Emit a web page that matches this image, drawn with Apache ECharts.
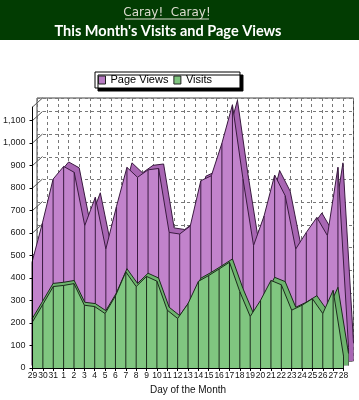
<!DOCTYPE html>
<html>
<head>
<meta charset="utf-8">
<script src="https://cdn.jsdelivr.net/npm/echarts@6/dist/echarts.min.js"></script>
<style>
html,body{margin:0;padding:0;background:#fff;}
#c{width:359px;height:400px;}
</style>
</head>
<body>
<div id="c"></div>
<script>
// ---- data ----
const days = ['29','30','31','1','2','3','4','5','6','7','8','9','10','11','12','13','14','15','16','17','18','19','20','21','22','23','24','25','26','27','28'];
const pageViews = [455,631,822,878,852,617,742,514,700,874,830,863,869,587,580,615,815,837,980,1150,822,529,660,840,749,514,587,653,573,874,80];
const visits = [205,283,362,367,375,279,273,242,320,427,362,407,386,257,220,286,385,411,440,470,339,229,301,389,370,257,279,308,242,345,53];
const yTicks = [0,100,200,300,400,500,600,700,800,900,1000,1100];
const Y_MAX = 1160;

// ---- layout ----
const DX = 10, DY = 9; // 3D depth offset of back wall
const front = {left:27, right:15.5, top:107, bottom:30};
function shifted(f, sx, sy){ return {left:f.left+sx, right:f.right-sx, top:f.top-sy, bottom:f.bottom+sy}; }
const mid = shifted(front, DX/2, DY/2);
const back = shifted(front, DX, DY);

const chart = echarts.init(document.getElementById('c'), null, {renderer:'canvas'});

function dropLines(color){
  return function(params, api){
    const top = api.coord([api.value(0), api.value(1)]);
    const bot = api.coord([api.value(0), 0]);
    return {type:'line', shape:{x1:top[0], y1:top[1], x2:bot[0], y2:bot[1]},
            style:{stroke:color, lineWidth:1}};
  };
}
function sideWall(params, api){
  const p = api.coord([0, api.value(1)]);
  return {type:'line', shape:{x1:p[0], y1:p[1], x2:p[0]+DX, y2:p[1]-DY},
          style:{stroke:'#555', lineWidth:1}};
}

const hiddenX = (gi)=>({type:'category', gridIndex:gi, data:days, boundaryGap:false,
  axisLine:{show:false}, axisTick:{show:false}, axisLabel:{show:false}, splitLine:{show:false}});
const hiddenY = (gi)=>({type:'value', gridIndex:gi, min:0, max:Y_MAX, interval:100,
  axisLine:{show:false}, axisTick:{show:false}, axisLabel:{show:false}, splitLine:{show:false}});

const option = {
  animation:false,
  backgroundColor:'#ffffff',
  graphic:[
    {type:'rect', shape:{x:0, y:0, width:359, height:40}, style:{fill:'#023c02'}, z:0},
    {type:'text', x:167, y:13, style:{text:'Caray!  Caray!', fill:'#dcdccf', font:'12px "DejaVu Sans"', align:'center', verticalAlign:'middle'}},
    {type:'line', shape:{x1:125, y1:19, x2:209, y2:19}, style:{stroke:'#dcdccf', lineWidth:1}},
    {type:'text', x:168, y:31.5, style:{text:"This Month's Visits and Page Views", fill:'#ffffff', font:'bold 14.5px Lato', align:'center', verticalAlign:'middle'}}
  ],
  legend:{
    left:95, top:72,
    orient:'horizontal',
    data:[
      {name:'Page Views', icon:'rect', itemStyle:{color:'#b87cc4', borderColor:'#222', borderWidth:1}},
      {name:'Visits', icon:'rect', itemStyle:{color:'#7ec47e', borderColor:'#222', borderWidth:1}}
    ],
    itemWidth:7, itemHeight:8, itemGap:5,
    padding:[2,28,2,3],
    textStyle:{fontSize:11, fontFamily:'Liberation Sans', color:'#000', lineHeight:12},
    backgroundColor:'#ffffff', borderColor:'#000', borderWidth:1,
    shadowColor:'#000', shadowOffsetX:3, shadowOffsetY:3, shadowBlur:0,
    selectedMode:false
  },
  grid:[
    Object.assign({containLabel:false}, front),
    Object.assign({containLabel:false}, mid),
    Object.assign({containLabel:false, show:true, backgroundColor:'#ffffff', borderColor:'#444', borderWidth:1}, back)
  ],
  xAxis:[
    {type:'category', gridIndex:0, data:days, boundaryGap:false, z:10,
     axisLine:{lineStyle:{color:'#000', width:1}},
     axisTick:{show:true, interval:0, length:3, lineStyle:{color:'#000'}},
     axisLabel:{interval:0, fontSize:8.5, fontFamily:'Liberation Sans', color:'#111', margin:3},
     splitLine:{show:false},
     name:'Day of the Month', nameLocation:'middle', nameGap:17,
     nameTextStyle:{fontSize:10, fontFamily:'Liberation Sans', color:'#111'}},
    hiddenX(1),
    Object.assign(hiddenX(2), {splitLine:{show:true, interval:0, lineStyle:{color:'#777', type:[3,3], width:1}}})
  ],
  yAxis:[
    {type:'value', gridIndex:0, min:0, max:Y_MAX, interval:100, z:10,
     axisLine:{show:true, lineStyle:{color:'#000', width:1}},
     axisTick:{show:true, length:3, lineStyle:{color:'#000'}},
     axisLabel:{fontSize:9, fontFamily:'Liberation Sans', color:'#222', margin:7, showMaxLabel:false,
       formatter:(v)=> (v % 100 === 0 ? v.toLocaleString('en-US') : '')},
     splitLine:{show:false}},
    hiddenY(1),
    Object.assign(hiddenY(2), {splitLine:{show:true, lineStyle:{color:'#777', type:[3,3], width:1}}})
  ],
  series:[
    {type:'custom', name:'wall', xAxisIndex:0, yAxisIndex:0, z:1, silent:true,
     renderItem:sideWall, data:yTicks.concat([Y_MAX]).map(v=>[0, v])},
    {type:'line', name:'Page Views', xAxisIndex:2, yAxisIndex:2, z:2, data:pageViews,
     symbol:'none', lineStyle:{color:'#3a1a40', width:1},
     areaStyle:{color:'#a866b3', opacity:1}},
    {type:'line', name:'Page Views', xAxisIndex:1, yAxisIndex:1, z:3, data:pageViews,
     symbol:'none', lineStyle:{color:'#3a1a40', width:1},
     areaStyle:{color:'#c283cc', opacity:1}},
    {type:'custom', name:'Page Views', xAxisIndex:1, yAxisIndex:1, z:4, silent:true,
     renderItem:dropLines('#3a1a40'), data:pageViews.map((v,i)=>[i, v])},
    {type:'line', name:'Visits', xAxisIndex:1, yAxisIndex:1, z:5, data:visits,
     symbol:'none', lineStyle:{color:'#1c2a1c', width:1},
     areaStyle:{color:'#6db46d', opacity:1}},
    {type:'line', name:'Visits', xAxisIndex:0, yAxisIndex:0, z:6, data:visits,
     symbol:'none', lineStyle:{color:'#1c2a1c', width:1},
     areaStyle:{color:'#80c680', opacity:1}},
    {type:'custom', name:'Visits', xAxisIndex:0, yAxisIndex:0, z:7, silent:true,
     renderItem:dropLines('#1c2a1c'), data:visits.map((v,i)=>[i, v])}
  ]
};
chart.setOption(option);
</script>
</body>
</html>
